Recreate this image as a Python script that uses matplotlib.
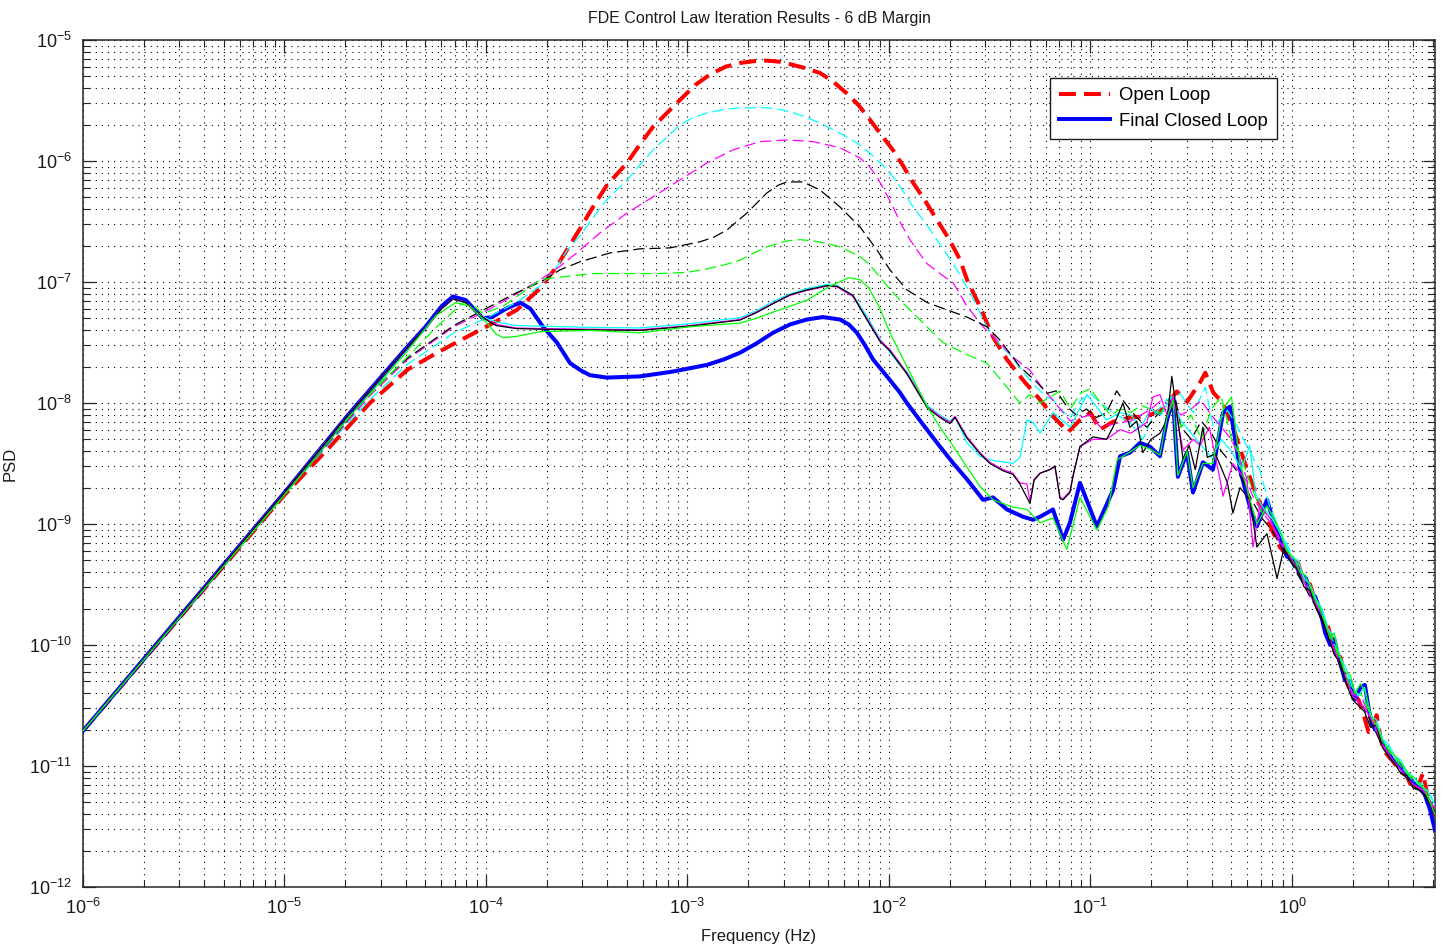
import numpy as np
import matplotlib
matplotlib.use("Agg")
import matplotlib.pyplot as plt
from matplotlib.ticker import FixedLocator, NullFormatter, LogFormatterSciNotation

plt.rcParams['font.family'] = ['Liberation Sans', 'DejaVu Sans']
plt.rcParams['mathtext.fontset'] = 'custom'
plt.rcParams['mathtext.rm'] = 'Liberation Sans'
plt.rcParams['mathtext.it'] = 'Liberation Sans:italic'
plt.rcParams['mathtext.bf'] = 'Liberation Sans:bold'

# ---- data: (log10 frequency [Hz], log10 PSD) ----
open_loop = [(-6.0, -10.71), (-5.0, -8.76), (-4.774, -8.36), (-4.576, -8.0), (-4.39, -7.725),
             (-4.243, -7.585), (-4.094, -7.453), (-3.98, -7.353), (-3.846, -7.23), (-3.73, -7.05),
             (-3.65, -6.875), (-3.598, -6.734), (-3.53, -6.55), (-3.469, -6.38), (-3.40, -6.20),
             (-3.30, -6.016), (-3.235, -5.86), (-3.171, -5.718), (-3.10, -5.60), (-3.037, -5.495),
             (-2.96, -5.37), (-2.888, -5.285), (-2.81, -5.22), (-2.74, -5.19), (-2.67, -5.175),
             (-2.606, -5.17), (-2.54, -5.18), (-2.476, -5.206), (-2.41, -5.235), (-2.342, -5.273),
             (-2.28, -5.34), (-2.21, -5.44), (-2.15, -5.54), (-2.094, -5.66), (-2.04, -5.78),
             (-1.98, -5.91), (-1.93, -6.04), (-1.88, -6.18), (-1.82, -6.33), (-1.762, -6.486),
             (-1.70, -6.65), (-1.647, -6.817), (-1.613, -6.98), (-1.548, -7.205), (-1.484, -7.453),
             (-1.415, -7.64), (-1.335, -7.81), (-1.25, -7.973), (-1.186, -8.11), (-1.11, -8.24),
             (-1.052, -8.14), (-1.0, -8.08), (-0.953, -8.22), (-0.888, -8.155), (-0.853, -8.14),
             (-0.804, -8.12), (-0.72, -8.11), (-0.64, -8.05), (-0.571, -7.905), (-0.52, -7.99),
             (-0.456, -7.83), (-0.43, -7.75), (-0.39, -7.915), (-0.342, -8.0), (-0.293, -8.196),
             (-0.223, -8.55), (-0.174, -8.77), (-0.124, -8.96), (-0.06, -9.19), (0.0, -9.3),
             (0.03, -9.32), (0.06, -9.48), (0.09, -9.5), (0.12, -9.66), (0.15, -9.78), (0.18, -9.85),
             (0.21, -10.05), (0.24, -10.1), (0.27, -10.3), (0.30, -10.42), (0.33, -10.45),
             (0.36, -10.6), (0.38, -10.72), (0.40, -10.7), (0.42, -10.58), (0.45, -10.86),
             (0.48, -10.92), (0.51, -10.98), (0.54, -11.05), (0.57, -11.08), (0.60, -11.2),
             (0.63, -11.15), (0.65, -11.06), (0.68, -11.3), (0.71, -11.42)]

final_closed_loop = [(-6.0, -10.71), (-5.0, -8.74), (-4.675, -8.08), (-4.39, -7.535), (-4.30, -7.37),
                     (-4.22, -7.20), (-4.164, -7.12), (-4.10, -7.15), (-4.05, -7.24), (-4.015, -7.30),
                     (-3.97, -7.29), (-3.90, -7.22), (-3.83, -7.17), (-3.78, -7.22), (-3.717, -7.37),
                     (-3.648, -7.50), (-3.583, -7.67), (-3.53, -7.73), (-3.484, -7.77), (-3.40, -7.79),
                     (-3.236, -7.78), (-3.072, -7.74), (-2.903, -7.685), (-2.82, -7.64), (-2.74, -7.585),
                     (-2.66, -7.51), (-2.576, -7.42), (-2.49, -7.35), (-2.407, -7.31), (-2.328, -7.29),
                     (-2.243, -7.31), (-2.20, -7.35), (-2.159, -7.42), (-2.12, -7.52), (-2.079, -7.64),
                     (-2.01, -7.78), (-1.945, -7.915), (-1.911, -8.0), (-1.83, -8.18), (-1.747, -8.36),
                     (-1.68, -8.50), (-1.613, -8.63), (-1.533, -8.80), (-1.484, -8.78), (-1.414, -8.88),
                     (-1.335, -8.94), (-1.285, -8.965), (-1.25, -8.94), (-1.186, -8.88), (-1.136, -9.13),
                     (-1.102, -8.99), (-1.052, -8.66), (-0.968, -9.02), (-0.888, -8.72), (-0.853, -8.44),
                     (-0.804, -8.41), (-0.754, -8.33), (-0.705, -8.36), (-0.655, -8.44), (-0.62, -8.14),
                     (-0.59, -7.97), (-0.566, -8.61), (-0.521, -8.41), (-0.491, -8.74), (-0.442, -8.49),
                     (-0.392, -8.55), (-0.342, -8.08), (-0.308, -8.03), (-0.258, -8.55), (-0.208, -8.86),
                     (-0.174, -9.02), (-0.124, -8.80), (-0.074, -9.07), (-0.025, -9.27), (0.01, -9.3),
                     (0.04, -9.42), (0.07, -9.45), (0.09, -9.58), (0.115, -9.6), (0.139, -9.71),
                     (0.165, -9.9), (0.19, -10.0), (0.21, -9.95), (0.228, -10.08), (0.263, -10.29),
                     (0.29, -10.3), (0.313, -10.45), (0.34, -10.35), (0.362, -10.33), (0.38, -10.52),
                     (0.397, -10.66), (0.425, -10.72), (0.452, -10.82), (0.475, -10.88), (0.5, -10.95),
                     (0.53, -10.98), (0.561, -11.07), (0.585, -11.1), (0.61, -11.15), (0.635, -11.18),
                     (0.66, -11.24), (0.685, -11.36), (0.71, -11.53)]

cyan_dashed = [(-6.0, -10.71), (-5.0, -8.75), (-4.774, -8.33), (-4.576, -7.97), (-4.39, -7.68),
               (-4.16, -7.42), (-4.0, -7.30), (-3.85, -7.17), (-3.73, -7.03), (-3.65, -6.88),
               (-3.598, -6.74), (-3.53, -6.61), (-3.469, -6.47), (-3.40, -6.32), (-3.30, -6.157),
               (-3.235, -6.03), (-3.171, -5.908), (-3.10, -5.80), (-3.037, -5.70), (-2.97, -5.64),
               (-2.903, -5.603), (-2.82, -5.575), (-2.74, -5.56), (-2.606, -5.56), (-2.54, -5.575),
               (-2.476, -5.60), (-2.41, -5.64), (-2.342, -5.686), (-2.28, -5.74), (-2.21, -5.80),
               (-2.15, -5.86), (-2.094, -5.935), (-2.04, -6.02), (-1.98, -6.13), (-1.93, -6.25),
               (-1.88, -6.38), (-1.82, -6.51), (-1.762, -6.65), (-1.662, -6.90), (-1.60, -7.08),
               (-1.514, -7.37), (-1.45, -7.52), (-1.40, -7.60), (-1.335, -7.74), (-1.28, -7.85),
               (-1.22, -7.95), (-1.186, -7.97), (-1.15, -8.05), (-1.10, -8.12), (-1.05, -7.98),
               (-1.0, -7.92), (-0.95, -8.0), (-0.888, -8.08), (-0.804, -8.16), (-0.74, -8.30),
               (-0.69, -8.11), (-0.62, -7.97), (-0.556, -7.92), (-0.49, -8.08), (-0.43, -7.87),
               (-0.39, -8.2), (-0.32, -8.06), (-0.27, -8.2), (-0.223, -8.36), (-0.16, -8.55),
               (-0.11, -8.86), (-0.06, -9.05), (0.0, -9.25), (0.05, -9.4), (0.1, -9.6), (0.15, -9.72),
               (0.2, -9.95), (0.25, -10.15), (0.3, -10.4), (0.36, -10.45), (0.42, -10.72),
               (0.48, -10.85), (0.54, -11.0), (0.6, -11.12), (0.65, -11.15), (0.71, -11.3)]

magenta_dashed = [(-6.0, -10.71), (-5.0, -8.75), (-4.774, -8.32), (-4.576, -7.94), (-4.39, -7.64),
                  (-4.16, -7.37), (-4.0, -7.24), (-3.85, -7.10), (-3.73, -6.98), (-3.633, -6.87),
                  (-3.55, -6.76), (-3.434, -6.594), (-3.30, -6.43), (-3.171, -6.296), (-3.037, -6.156),
                  (-2.903, -6.016), (-2.774, -5.908), (-2.64, -5.84), (-2.506, -5.826), (-2.377, -5.84),
                  (-2.243, -5.89), (-2.144, -5.975), (-2.10, -6.04), (-2.06, -6.13), (-2.02, -6.25),
                  (-1.98, -6.38), (-1.94, -6.52), (-1.896, -6.65), (-1.85, -6.76), (-1.81, -6.85),
                  (-1.747, -6.93), (-1.68, -7.01), (-1.613, -7.2), (-1.533, -7.37), (-1.464, -7.48),
                  (-1.385, -7.62), (-1.30, -7.73), (-1.25, -7.85), (-1.2, -7.95), (-1.15, -8.05),
                  (-1.1, -8.15), (-1.05, -8.12), (-1.0, -8.1), (-0.95, -8.2), (-0.9, -8.18),
                  (-0.85, -8.16), (-0.8, -8.15), (-0.75, -8.1), (-0.7, -8.05), (-0.65, -7.98),
                  (-0.6, -8.02), (-0.55, -8.1), (-0.5, -8.05), (-0.45, -7.98), (-0.4, -8.1),
                  (-0.35, -8.2), (-0.3, -8.3), (-0.25, -8.5), (-0.2, -8.75), (-0.15, -8.9),
                  (-0.1, -9.0), (-0.05, -9.15), (0.0, -9.3), (0.05, -9.42), (0.1, -9.6),
                  (0.15, -9.75), (0.2, -9.98), (0.25, -10.2), (0.3, -10.4), (0.35, -10.45),
                  (0.4, -10.65), (0.45, -10.82), (0.5, -10.95), (0.55, -11.05), (0.6, -11.15),
                  (0.65, -11.2), (0.71, -11.35)]

black_dashed = [(-6.0, -10.71), (-5.0, -8.75), (-4.774, -8.31), (-4.576, -7.92), (-4.39, -7.63),
                (-4.16, -7.36), (-4.0, -7.22), (-3.85, -7.09), (-3.73, -7.0), (-3.633, -6.90),
                (-3.533, -6.833), (-3.385, -6.76), (-3.236, -6.726), (-3.087, -6.718), (-2.938, -6.668),
                (-2.87, -6.63), (-2.804, -6.57), (-2.705, -6.43), (-2.606, -6.264), (-2.55, -6.20),
                (-2.506, -6.173), (-2.427, -6.173), (-2.342, -6.24), (-2.243, -6.38), (-2.144, -6.544),
                (-2.06, -6.734), (-1.995, -6.90), (-1.911, -7.065), (-1.81, -7.17), (-1.712, -7.23),
                (-1.613, -7.29), (-1.514, -7.37), (-1.449, -7.48), (-1.35, -7.70), (-1.265, -7.83),
                (-1.216, -7.92), (-1.17, -7.90), (-1.117, -8.03), (-1.07, -8.1), (-1.02, -8.05),
                (-0.97, -8.12), (-0.92, -8.08), (-0.87, -7.9), (-0.82, -8.02), (-0.77, -8.12),
                (-0.72, -8.2), (-0.67, -8.1), (-0.62, -8.05), (-0.58, -7.95), (-0.55, -8.2),
                (-0.5, -8.3), (-0.45, -8.15), (-0.4, -8.25), (-0.35, -8.4), (-0.3, -8.5),
                (-0.25, -8.62), (-0.2, -8.8), (-0.15, -8.95), (-0.1, -9.05), (-0.05, -9.2),
                (0.0, -9.33), (0.05, -9.48), (0.1, -9.63), (0.15, -9.78), (0.2, -10.02),
                (0.25, -10.22), (0.3, -10.43), (0.35, -10.5), (0.4, -10.66), (0.45, -10.84),
                (0.5, -10.96), (0.55, -11.06), (0.6, -11.16), (0.65, -11.22), (0.71, -11.38)]

green_dashed = [(-6.0, -10.71), (-5.0, -8.75), (-4.8, -8.33), (-4.6, -7.97), (-4.39, -7.62),
                (-4.25, -7.38), (-4.114, -7.17), (-4.06, -7.2), (-4.015, -7.26), (-3.915, -7.2),
                (-3.83, -7.1), (-3.73, -6.98), (-3.633, -6.96), (-3.469, -6.93), (-3.30, -6.93),
                (-3.137, -6.93), (-3.0, -6.92), (-2.9, -6.89), (-2.82, -6.86), (-2.74, -6.82),
                (-2.67, -6.76), (-2.606, -6.71), (-2.506, -6.66), (-2.44, -6.65), (-2.377, -6.66),
                (-2.31, -6.68), (-2.243, -6.71), (-2.144, -6.79), (-2.10, -6.85), (-2.06, -6.93),
                (-2.0, -7.05), (-1.945, -7.15), (-1.83, -7.34), (-1.732, -7.50), (-1.613, -7.60),
                (-1.514, -7.67), (-1.434, -7.83), (-1.35, -8.0), (-1.30, -7.93), (-1.25, -8.0),
                (-1.2, -7.95), (-1.15, -7.9), (-1.1, -8.05), (-1.05, -7.92), (-1.0, -7.88),
                (-0.95, -8.0), (-0.9, -8.1), (-0.85, -8.05), (-0.8, -8.08), (-0.75, -8.02),
                (-0.7, -8.05), (-0.65, -8.08), (-0.6, -7.95), (-0.55, -8.2), (-0.5, -8.1),
                (-0.45, -8.3), (-0.4, -8.05), (-0.35, -7.95), (-0.3, -8.3), (-0.25, -8.45),
                (-0.2, -8.7), (-0.15, -8.9), (-0.1, -8.95), (-0.05, -9.1), (0.0, -9.3),
                (0.05, -9.45), (0.1, -9.58), (0.15, -9.72), (0.2, -9.95), (0.25, -10.18),
                (0.3, -10.38), (0.35, -10.42), (0.4, -10.62), (0.45, -10.8), (0.5, -10.92),
                (0.55, -11.02), (0.6, -11.12), (0.65, -11.18), (0.71, -11.35)]

cyan_solid = [(-6.0, -10.71), (-5.0, -8.74), (-4.675, -8.08), (-4.39, -7.54), (-4.30, -7.38),
              (-4.22, -7.22), (-4.164, -7.14), (-4.10, -7.17), (-4.05, -7.25), (-4.0, -7.30),
              (-3.95, -7.33), (-3.85, -7.36), (-3.73, -7.365), (-3.484, -7.375), (-3.236, -7.38),
              (-2.99, -7.345), (-2.74, -7.295), (-2.66, -7.24), (-2.576, -7.16), (-2.49, -7.10),
              (-2.407, -7.055), (-2.308, -7.02), (-2.258, -7.03), (-2.179, -7.11), (-2.11, -7.28),
              (-2.045, -7.47), (-1.945, -7.69), (-1.911, -7.74), (-1.81, -8.02), (-1.747, -8.10),
              (-1.697, -8.15), (-1.672, -8.11), (-1.613, -8.33), (-1.548, -8.44), (-1.499, -8.47),
              (-1.385, -8.5), (-1.35, -8.45), (-1.315, -8.14), (-1.285, -8.16), (-1.25, -8.25),
              (-1.186, -8.08), (-1.10, -8.2), (-1.017, -7.93), (-0.92, -8.14), (-0.853, -8.08),
              (-0.80, -8.1), (-0.75, -8.2), (-0.70, -8.05), (-0.65, -8.1), (-0.6, -7.95),
              (-0.55, -8.15), (-0.5, -8.25), (-0.45, -8.35), (-0.4, -8.45), (-0.35, -8.3),
              (-0.3, -8.4), (-0.25, -8.55), (-0.21, -8.35), (-0.18, -8.75), (-0.15, -8.85),
              (-0.1, -8.95), (-0.05, -9.1), (0.0, -9.28), (0.03, -9.3), (0.06, -9.45),
              (0.09, -9.5), (0.12, -9.62), (0.15, -9.7), (0.18, -9.88), (0.21, -9.92),
              (0.24, -10.1), (0.27, -10.2), (0.3, -10.35), (0.33, -10.42), (0.36, -10.35),
              (0.39, -10.58), (0.42, -10.62), (0.45, -10.78), (0.48, -10.82), (0.51, -10.92),
              (0.54, -10.95), (0.57, -11.05), (0.6, -11.08), (0.63, -11.15), (0.67, -11.2),
              (0.71, -11.32)]

magenta_solid = [(-6.0, -10.71), (-5.0, -8.74), (-4.675, -8.08), (-4.39, -7.54), (-4.30, -7.38),
                 (-4.22, -7.22), (-4.164, -7.14), (-4.10, -7.17), (-4.05, -7.25), (-4.0, -7.31),
                 (-3.95, -7.35), (-3.85, -7.38), (-3.73, -7.385), (-3.484, -7.39), (-3.236, -7.395),
                 (-2.99, -7.36), (-2.74, -7.31), (-2.66, -7.25), (-2.576, -7.175), (-2.49, -7.11),
                 (-2.407, -7.07), (-2.308, -7.035), (-2.258, -7.04), (-2.179, -7.12), (-2.11, -7.30),
                 (-2.045, -7.48), (-1.995, -7.56), (-1.911, -7.75), (-1.81, -8.03), (-1.747, -8.11),
                 (-1.697, -8.16), (-1.672, -8.11), (-1.613, -8.28), (-1.548, -8.41), (-1.499, -8.49),
                 (-1.434, -8.55), (-1.385, -8.58), (-1.35, -8.66), (-1.315, -8.67), (-1.30, -8.82),
                 (-1.28, -8.63), (-1.25, -8.58), (-1.201, -8.55), (-1.176, -8.53), (-1.151, -8.78),
                 (-1.136, -8.79), (-1.102, -8.73), (-1.086, -8.6), (-1.052, -8.36), (-0.988, -8.30),
                 (-0.92, -8.30), (-0.853, -8.22), (-0.80, -8.25), (-0.72, -8.16), (-0.69, -7.95),
                 (-0.655, -7.93), (-0.62, -8.1), (-0.59, -7.95), (-0.54, -8.39), (-0.49, -8.3),
                 (-0.456, -8.35), (-0.41, -8.2), (-0.357, -8.63), (-0.342, -8.77), (-0.293, -8.5),
                 (-0.223, -8.65), (-0.193, -9.19), (-0.16, -8.85), (-0.11, -8.95), (-0.06, -9.15),
                 (0.0, -9.3), (0.05, -9.45), (0.1, -9.62), (0.15, -9.75), (0.2, -10.0),
                 (0.25, -10.2), (0.3, -10.42), (0.35, -10.5), (0.4, -10.62), (0.45, -10.83),
                 (0.5, -10.95), (0.55, -11.05), (0.6, -11.15), (0.65, -11.2), (0.71, -11.35)]

black_solid = [(-6.0, -10.71), (-5.0, -8.74), (-4.675, -8.08), (-4.39, -7.54), (-4.30, -7.38),
               (-4.22, -7.22), (-4.164, -7.14), (-4.10, -7.17), (-4.05, -7.25), (-4.0, -7.31),
               (-3.95, -7.36), (-3.85, -7.385), (-3.73, -7.39), (-3.484, -7.395), (-3.236, -7.40),
               (-2.99, -7.365), (-2.74, -7.315), (-2.66, -7.255), (-2.576, -7.18), (-2.49, -7.105),
               (-2.407, -7.065), (-2.308, -7.03), (-2.258, -7.035), (-2.179, -7.11), (-2.11, -7.31),
               (-2.045, -7.49), (-1.995, -7.57), (-1.911, -7.76), (-1.81, -8.04), (-1.747, -8.12),
               (-1.697, -8.17), (-1.672, -8.12), (-1.613, -8.29), (-1.548, -8.42), (-1.499, -8.50),
               (-1.434, -8.56), (-1.385, -8.59), (-1.35, -8.67), (-1.30, -8.83), (-1.28, -8.64),
               (-1.25, -8.58), (-1.201, -8.55), (-1.176, -8.52), (-1.151, -8.79), (-1.136, -8.80),
               (-1.102, -8.74), (-1.086, -8.6), (-1.052, -8.36), (-0.988, -8.28), (-0.92, -8.30),
               (-0.888, -8.2), (-0.839, -8.0), (-0.804, -8.2), (-0.77, -8.15), (-0.74, -8.41),
               (-0.70, -8.3), (-0.655, -8.25), (-0.62, -8.14), (-0.596, -7.78), (-0.57, -8.1),
               (-0.54, -8.47), (-0.51, -8.35), (-0.48, -8.55), (-0.442, -8.2), (-0.42, -8.45),
               (-0.38, -8.42), (-0.32, -8.66), (-0.293, -8.91), (-0.258, -8.7), (-0.208, -8.8),
               (-0.174, -9.19), (-0.124, -9.08), (-0.074, -9.45), (-0.04, -9.2), (0.0, -9.32),
               (0.03, -9.38), (0.06, -9.52), (0.09, -9.55), (0.12, -9.7), (0.15, -9.8),
               (0.18, -9.92), (0.21, -10.08), (0.24, -10.15), (0.27, -10.32), (0.3, -10.45),
               (0.33, -10.5), (0.36, -10.55), (0.39, -10.68), (0.42, -10.66), (0.45, -10.85),
               (0.48, -10.92), (0.51, -10.98), (0.54, -11.06), (0.57, -11.08), (0.6, -11.18),
               (0.63, -11.2), (0.67, -11.25), (0.71, -11.4)]

green_solid = [(-6.0, -10.71), (-5.0, -8.76), (-4.675, -8.11), (-4.39, -7.57), (-4.25, -7.28),
               (-4.15, -7.17), (-4.08, -7.2), (-4.0, -7.33), (-3.95, -7.43), (-3.915, -7.46),
               (-3.85, -7.45), (-3.73, -7.41), (-3.484, -7.40), (-3.236, -7.42), (-2.99, -7.37),
               (-2.74, -7.34), (-2.66, -7.30), (-2.576, -7.25), (-2.49, -7.20), (-2.407, -7.15),
               (-2.3, -7.04), (-2.2, -6.965), (-2.144, -6.98), (-2.1, -7.05), (-2.05, -7.20),
               (-1.995, -7.42), (-1.911, -7.70), (-1.81, -8.03), (-1.747, -8.2), (-1.68, -8.36),
               (-1.613, -8.53), (-1.548, -8.69), (-1.484, -8.80), (-1.385, -8.86), (-1.315, -8.88),
               (-1.25, -8.99), (-1.186, -8.95), (-1.117, -9.21), (-1.052, -8.78), (-0.968, -9.05),
               (-0.91, -8.85), (-0.868, -8.47), (-0.80, -8.40), (-0.754, -8.35), (-0.705, -8.38),
               (-0.655, -8.43), (-0.62, -8.12), (-0.59, -7.98), (-0.566, -8.6), (-0.521, -8.4),
               (-0.491, -8.7), (-0.442, -8.5), (-0.392, -8.5), (-0.342, -8.05), (-0.30, -7.95),
               (-0.258, -8.5), (-0.208, -8.8), (-0.174, -9.0), (-0.124, -8.85), (-0.074, -9.0),
               (-0.025, -9.22), (0.01, -9.28), (0.04, -9.4), (0.065, -9.42), (0.09, -9.52),
               (0.115, -9.62), (0.139, -9.7), (0.165, -9.82), (0.19, -9.95), (0.21, -9.9),
               (0.228, -10.05), (0.263, -10.22), (0.29, -10.25), (0.313, -10.4), (0.34, -10.32),
               (0.362, -10.38), (0.38, -10.5), (0.397, -10.6), (0.425, -10.68), (0.452, -10.8),
               (0.475, -10.85), (0.5, -10.9), (0.53, -10.95), (0.561, -11.02), (0.585, -11.08),
               (0.61, -11.1), (0.635, -11.15), (0.66, -11.2), (0.685, -11.3), (0.71, -11.4)]

x_decades = [-6, -5, -4, -3, -2, -1, 0]
y_decades = [-12, -11, -10, -9, -8, -7, -6, -5]
legend_labels = ["Open Loop", "Final Closed Loop"]
title_text = "FDE Control Law Iteration Results - 6 dB Margin"


def hz_psd(points):
    arr = np.asarray(points, dtype=float)
    return np.power(10.0, arr[:, 0]), np.power(10.0, arr[:, 1])


W, H = 1443, 947
fig = plt.figure(figsize=(W / 100, H / 100), dpi=100)
ax = fig.add_axes([83 / W, 1 - 887 / H, 1352 / W, 847 / H])

thin = 0.9
dash_thin = (0, (9, 4))

# legend series first (drawn underneath in the reference)
f, p = hz_psd(open_loop)
ax.plot(f, p, color='#ff0000', lw=2.9, linestyle=(0, (4.2, 2.0)), label=legend_labels[0], zorder=3)
f, p = hz_psd(final_closed_loop)
ax.plot(f, p, color='#0000ff', lw=2.9, label=legend_labels[1], zorder=3)

for pts, col, ls in [(cyan_dashed, '#00ffff', dash_thin),
                     (magenta_dashed, '#ff00ff', dash_thin),
                     (black_dashed, '#000000', dash_thin),
                     (green_dashed, '#00ff00', dash_thin),
                     (cyan_solid, '#00ffff', '-'),
                     (magenta_solid, '#ff00ff', '-'),
                     (black_solid, '#000000', '-'),
                     (green_solid, '#00ff00', '-')]:
    f, p = hz_psd(pts)
    ax.plot(f, p, color=col, lw=thin, linestyle=ls, zorder=4)

ax.set_xscale('log')
ax.set_yscale('log')
xmax = 10 ** 0.71
ax.set_xlim(1e-6, xmax)
ax.set_ylim(1e-12, 1e-5)

x_major = [10.0 ** d for d in x_decades]
y_major = [10.0 ** d for d in y_decades]
x_minor = [k * 10.0 ** d for d in x_decades for k in range(2, 10) if k * 10.0 ** d <= xmax]
y_minor = [k * 10.0 ** d for d in y_decades[:-1] for k in range(2, 10)]
ax.xaxis.set_major_locator(FixedLocator(x_major))
ax.yaxis.set_major_locator(FixedLocator(y_major))
ax.xaxis.set_minor_locator(FixedLocator(x_minor))
ax.yaxis.set_minor_locator(FixedLocator(y_minor))
ax.xaxis.set_major_formatter(LogFormatterSciNotation())
ax.yaxis.set_major_formatter(LogFormatterSciNotation())
ax.xaxis.set_minor_formatter(NullFormatter())
ax.yaxis.set_minor_formatter(NullFormatter())

ax.grid(True, which='both', color='black', linestyle=(0, (1, 4.5)), linewidth=0.8)
ax.tick_params(which='both', direction='in', top=True, right=True, colors='0.15',
               labelcolor='0.1', labelsize=13)
ax.tick_params(which='major', length=9, width=0.9, pad=8)
ax.tick_params(which='minor', length=5, width=0.8)
for s in ax.spines.values():
    s.set_linewidth(1.1)
    s.set_color('0.15')

ax.set_title(title_text, fontsize=11.5, color='0.1', pad=12)
ax.set_xlabel("Frequency (Hz)", fontsize=12, color='0.1', labelpad=8)
ax.set_ylabel("PSD", fontsize=12, color='0.1', labelpad=8)

leg = ax.legend(loc='upper left', bbox_to_anchor=((1050 - 83) / 1352, (887 - 78) / 847),
                fontsize=13.3, frameon=True, fancybox=False, framealpha=1.0,
                edgecolor='0.1', handlelength=2.75, borderpad=0.5, labelspacing=0.45,
                handletextpad=0.5, borderaxespad=0.0)
leg.get_frame().set_linewidth(1.0)

fig.savefig("out.png", dpi=100)
